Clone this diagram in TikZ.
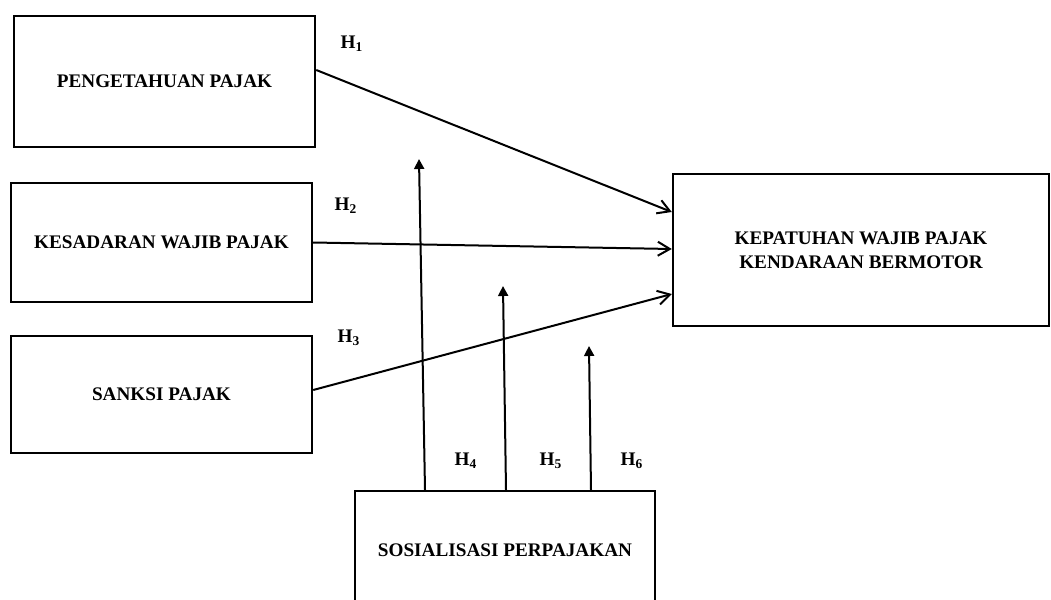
\documentclass[tikz,border=0pt]{standalone}
\usepackage{fontspec}
\setmainfont{Liberation Serif}
\usetikzlibrary{arrows.meta}

\begin{document}
\begin{tikzpicture}[x=0.5pt, y=-0.5pt,
  box/.style={draw, line width=1.2pt, inner sep=0pt, align=center, font=\bfseries\fontsize{9.6}{12}\selectfont},
  hyp/.style={font=\bfseries\fontsize{9.6}{12}\selectfont},
  link/.style={line width=1pt, -{Straight Barb[length=6pt,width=7pt]}},
  moder/.style={line width=1pt, -{Triangle[length=5pt,width=5pt]}}]
  \useasboundingbox (0,0) rectangle (1051,600);
  \clip (0,0) rectangle (1051,600);
  % variabel bebas
  \node[box, minimum width=150.5pt, minimum height=65.5pt] (peng) at (164.5,81.5) {PENGETAHUAN PAJAK};
  \node[box, minimum width=150.5pt, minimum height=59.5pt] (kesa) at (161.5,242.5) {KESADARAN WAJIB PAJAK};
  \node[box, minimum width=150.5pt, minimum height=58.5pt] (sank) at (161.5,394.5) {SANKSI PAJAK};
  % variabel terikat dan moderasi
  \node[box, minimum width=188pt, minimum height=76pt] (kepa) at (861,250) {KEPATUHAN WAJIB PAJAK\\KENDARAAN BERMOTOR};
  \node[box, minimum width=150pt, minimum height=59pt] (sosi) at (505,550) {SOSIALISASI PERPAJAKAN};
  % hipotesis
  \draw[link] ([yshift=5.75pt]peng.east) -- ([yshift=19pt]kepa.west);
  \draw[link] (kesa.east) -- ([yshift=0.5pt]kepa.west);
  \draw[link] ([yshift=2.25pt]sank.east) -- ([yshift=-22pt]kepa.west);
  \coordinate (t4) at (419,159);
  \coordinate (t5) at (503,286);
  \coordinate (t6) at (589,346);
  \draw[moder] ([xshift=-40pt]sosi.north) -- (t4);
  \draw[moder] ([xshift=0.5pt]sosi.north) -- (t5);
  \draw[moder] ([xshift=43pt]sosi.north) -- (t6);
  \node[hyp] (h1) at (352,44) {H\textsubscript{1}};
  \node[hyp] (h2) at (346,206) {H\textsubscript{2}};
  \node[hyp] (h3) at (349,338) {H\textsubscript{3}};
  \node[hyp] (h4) at (466,461) {H\textsubscript{4}};
  \node[hyp] (h5) at (551,461) {H\textsubscript{5}};
  \node[hyp] (h6) at (632,461) {H\textsubscript{6}};
\end{tikzpicture}
\end{document}
